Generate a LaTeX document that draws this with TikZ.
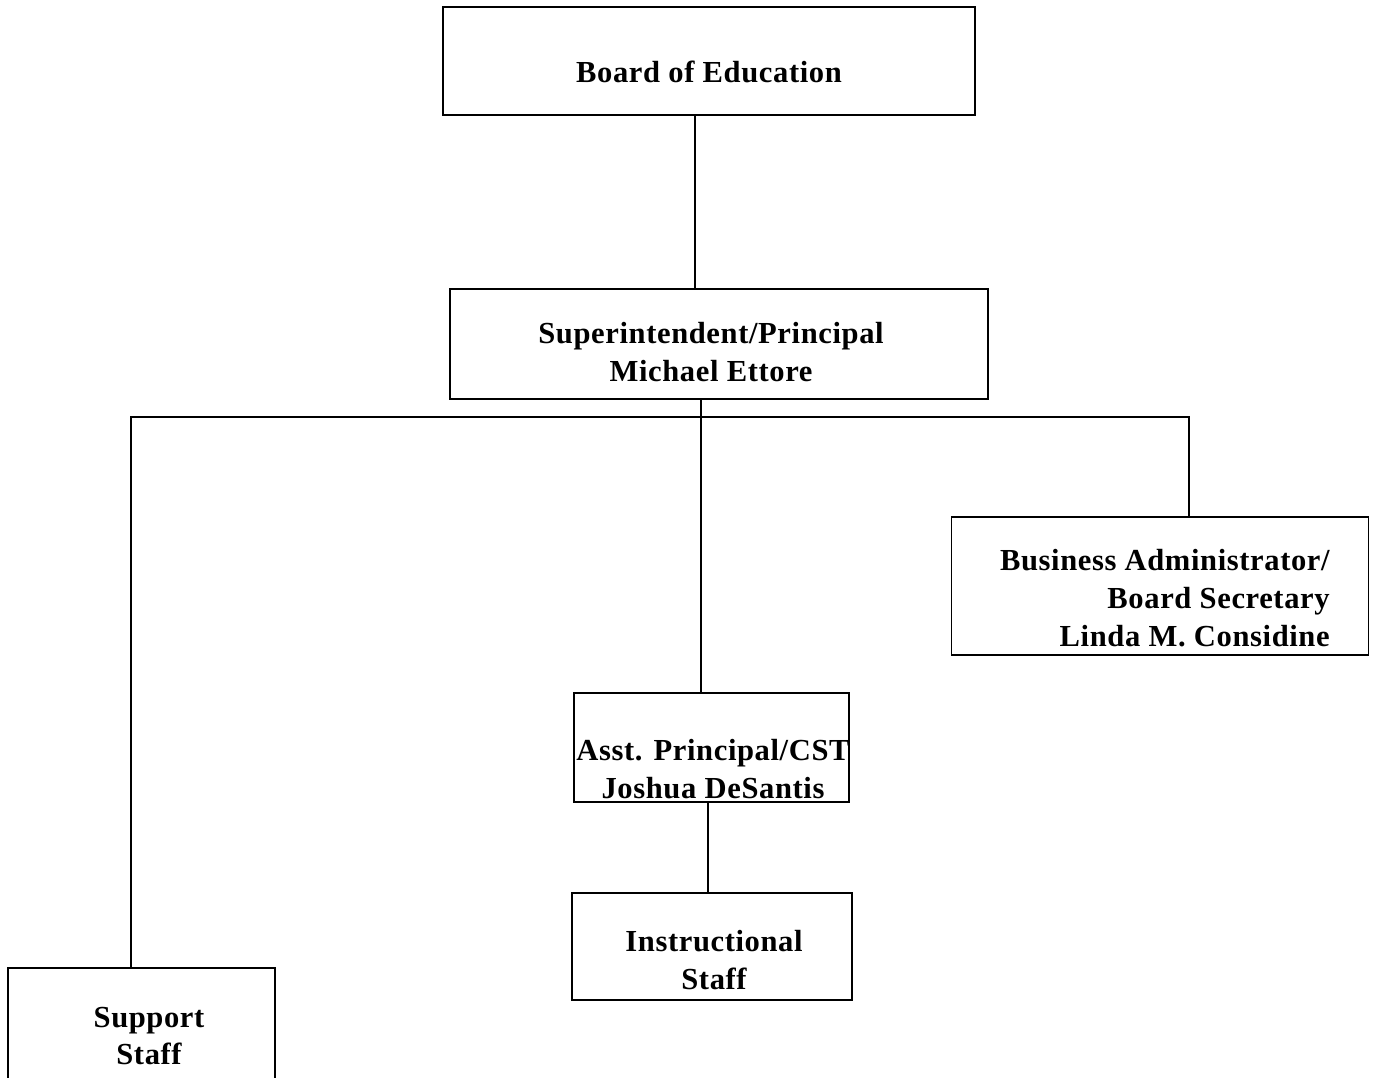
\documentclass[tikz,border=0pt]{standalone}
\usepackage{fontspec}
\setmainfont{Liberation Serif}
\usetikzlibrary{positioning}
\tikzset{
  unit/.style={draw=black,line width=1pt,rectangle,inner sep=0pt},
  title/.style={font=\bfseries\fontsize{17.4}{21.6}\selectfont\addfontfeatures{LetterSpace=2},align=center,inner sep=0pt},
  link/.style={draw=black,line width=1pt}
}

\begin{document}
\begin{tikzpicture}[x=0.02cm,y=-0.02cm]
  \useasboundingbox (0,0) rectangle (1376,1078);
  % boxes
  \node[unit,minimum width=10.64cm,minimum height=2.16cm] (board) at (709,61) {};
  \node[unit,minimum width=10.76cm,minimum height=2.2cm] (sup) at (719,344) {};
  \node[unit,minimum width=8.34cm,minimum height=2.76cm] (biz) at (1160,586) {};
  \node[unit,minimum width=5.5cm,minimum height=2.18cm] (asst) at (711.5,747.5) {};
  \node[unit,minimum width=5.6cm,minimum height=2.14cm] (instr) at (712,946.5) {};
  \node[unit,minimum width=5.34cm,minimum height=2.44cm] (support) at (141.5,1029) {};
  % texts
  \node[title] (boardtxt) at (709,72) {Board of Education};
  \node[title] (suptxt) at (711,352) {Superintendent/Principal\\Michael Ettore};
  \node[title,align=right,anchor=east] (biztxt) at (1330,598) {Business Administrator/\\Board Secretary\\Linda M. Considine};
  \node[title] (assttxt) at (713,769) {Asst. Principal/CST\\Joshua DeSantis};
  \node[title] (instrtxt) at (714,960) {Instructional\\Staff};
  \node[title] (supporttxt) at (149,1036) {Support\\Staff};
  % connectors
  \coordinate (split) at (701,417);
  \draw[link] ([xshift=-0.28cm]board.south) -- ([xshift=-0.48cm]sup.north);
  \draw[link] ([xshift=-0.36cm]sup.south) -- ([xshift=-0.21cm]asst.north);
  \draw[link] ([xshift=-0.21cm]support.north) |- (split) -| ([xshift=0.58cm]biz.north);
  \draw[link] ([xshift=-0.07cm]asst.south) -- ([xshift=-0.08cm]instr.north);
\end{tikzpicture}
\end{document}
